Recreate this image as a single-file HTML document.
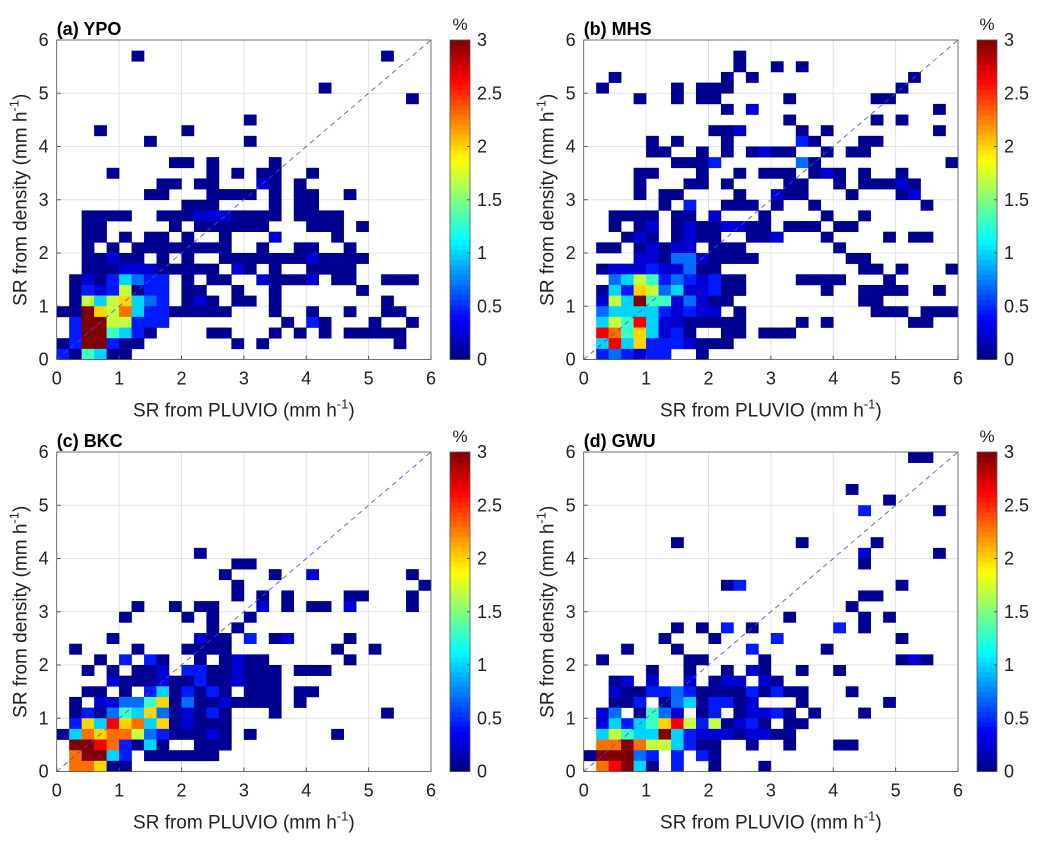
<!DOCTYPE html>
<html><head><meta charset="utf-8"><style>
body{margin:0;background:#fff;}
svg{display:block;font-family:"Liberation Sans",Arial,sans-serif;}
</style></head><body>
<svg id="fig" width="1042" height="844" viewBox="0 0 1042 844"></svg>
<script>
const NS="http://www.w3.org/2000/svg";
const panelTitles=["(a) YPO","(b) MHS","(c) BKC","(d) GWU"];
const xTicks=[0,1,2,3,4,5,6];
const yTicks=[0,1,2,3,4,5,6];
const cbTicks=[0,0.5,1,1.5,2,2.5,3];
const cbTickLabels=["0","0.5","1","1.5","2","2.5","3"];
const levelChars="123456789ab";
const levelValues=[0.05,0.25,0.45,0.7,1.0,1.3,1.7,2.0,2.3,2.65,3.0];
const binSize=0.2;
const rowsA=["","6 26","","","21","28","","15","3 10","7 15","",
"9-10 12 17","4 12 14 16-17 20","8-9 11-12 16=2 17 19","7-8 12-15 17 19-20 23","10-12 17 19-20",
"2-5 8-10 11=2 12=2 13=2 14-17 19-22","2-3 9 11-16 20-22 24","2-3 5 7-8 10 13 17=2 22","2 4 6-13 16 19-20 23",
"2-3 4=2 5-6 8 10 13-19 20=2 21-24","2-4 5=2 6=2 7=2 8-12 14=2 15 17 20-23",
"1 2=2 3 4=3 5=5 6=4 7=3 8=3 10 12-13 16=2 17-19 20=2 22-23 26-28",
"1 2=3 3=2 4=3 5=7 6 7=3 8=3 10-11 14 17 24",
"1 2=7 3=5 4=7 5=8 6=5 7=4 8=3 10 11=2 12 14-15 17 26",
"0-1 2=b 3=8 4=7 5=9 6=5 7=3 8=3 9-13 17 20 23 26-27",
"1=3 2=b 3=b 4=7 5=7 6=3 7=3 8=3 18 20=3 21 25 28",
"1=3 2=b 3=b 4=6 5=5 6=3 7 12-13 17 19 21 23-27",
"0 1=3 2=b 3=b 4=3 5-6 14 16 27","0=3 1 2=6 3=5 4-5"];
const rowsB=["","12","12 15 17","2 11 13 26","1 7 9-11 25","4 7 9-10 16 23-24","11 13=2 28","16 23 25",
"10-11 12=2 17 19 28","5 7 11 17=3 18 22-23","5-6 9 11 13 14=2 15-16 19 21-22","7-9 10=3 17=4 18 29",
"4-5 9 12 14-16 18 19=2 20 22 25","4 8-9 11 16-17 20 22-24 25=2 26","4 6-7 12 15=2 16-17 21 25 26=2",
"6 8=3 11-13 15 18 27","2-5 7-8 10=2 14 19 22","2 4 5=2 7 8=2 9-10 11=2 12=2 13-14 16-18 20-21",
"3 4=2 5 7 8=2 9-10 13-14 15=2 19 24 26-27","1-2 4 5=2 6 7=2 8=2 10-12 20",
"4=2 5=2 6 7=4 8=4 9=2 10-13 21-22","1 2=2 3=2 4=2 5=3 6=2 7=2 8=4 9-10 22-23 25 29",
"2=4 3=5 4=7 5=6 6=3 7=4 8=3 9=2 10=3 11-12 17-20 24",
"1 2=5 3=3 4=8 5=7 6=4 7=5 8=2 9=2 10=3 11-12 19 22-25 28",
"1=2 2=7 3=5 4=b 5=6 6=6 7=2 8=4 9=2 10-11 22-23",
"1=4 2=5 3=5 4=5 5=5 6=3 7=2 8=3 9=2 10=2 12 23-25 27-29",
"1=5 2=7 3=6 4=a 5=5 6=2 7=2 8-12 17 19 26-27",
"1=a 2=9 3=6 4=8 5=5 6=2 7=3 8 11-12 14-16",
"1=5 2=a 3=5 4=8 5=3 6=3 7=3 8=2 9-11","1=3 2=4 3=3 4=2 5=3 6=3 9"];
const rowsC=["","","","","","","","","","11","14-15","13 17 20=2 28","14 29","14 16 18 23-24 28",
"6 9 11-12 16=2 18 20-21 23=2 28","5 10 12 15","12 14","4 11=2 12-13 15=3 17 18=2 23",
"1 6 10-13 22 25","3 5=3 7=3 8 11 13 14=2 15-16 23",
"2 4 6-7 8=2 10=3 11=3 12-13 14=2 15-17 19-21",
"4=2 5-7 8=2 9-10 11=3 12-13 14=2 15-17",
"2-3 5 7=3 8=5 9 10=3 11 12=3 13 15-17 19-20",
"1 3=2 4=2 5=4 6=4 7=6 8=8 9 10=4 11-12 13=2 14-17 19",
"1 2=3 3 4=4 5=6 6=5 7=8 8=4 9 10=2 11 12=3 13 17 26",
"1=3 2=8 3=5 4=a 5=8 6=9 7=5 8=8 9 10=2 11-13",
"0 1=5 2=9 3=8 4=9 5=9 6=7 7=4 8=3 9-11 12=2 13 15 22",
"1=b 2=b 3=a 4=9 5=3 6 7=5 8 11-13","1=9 2=b 3=b 4=5 5=3 7-12","1=9 2=9 3=8 4-5"];
const rowsD=["26-27","","","21","24","22=3 28","","","7 17 23","22=2 28","22","","11 12=3 25","22-23","21",
"16 22 24","7 9 11=3 13 20=3 22","6 10 15=3 25","3 7 13=3 19","1 8-9 14 25 26=2 27",
"5 8 11 13=2 14 17 20","2 3=2 5=2 8=2 10 11=2 12=2 14=2 15",
"2=2 3-4 5=3 6=3 7=4 8=3 9-12 13=3 14 15=3 16-17 21",
"2-3 4=3 6 7=4 8=5 9 10=3 11=3 12 13=2 17 24",
"1=2 2=4 4 5=6 6=4 7=2 9 10=3 12 13=2 14=2 15=3 16 18 22",
"1=2 2=5 3=3 4=5 5=6 6=8 7=a 8=7 9=3 10=7 11 12=2 13=3 14 16-17",
"1=5 2=7 3=6 4=5 5=5 6=b 7=5 8=3 9=2 10=2 11=2 12 13=2 14=2 15-16",
"1=9 2=9 3=b 4=9 5=7 6=7 7=5 8=3 9-10 13 16 20-21",
"0 1=b 2=b 3=b 4=4 5=3 7=3 9=3 10","1=9 2=a 3=b 4=5 5 7=3 10 14"];
const panelRows=[rowsA,rowsB,rowsC,rowsD];

const panels=[{l:56.7,r:431,t:40,b:359.5},{l:583.7,r:958,t:40,b:359.5},{l:56.7,r:431,t:452,b:771.5},{l:583.7,r:958,t:452,b:771.5}];
const svg=document.getElementById('fig');
function el(tag,attrs,parent){const e=document.createElementNS(NS,tag);for(const k in attrs)e.setAttribute(k,attrs[k]);(parent||svg).appendChild(e);return e;}
function jet(v){const t=Math.max(0,Math.min(1,v/3));const c=x=>Math.round(255*Math.max(0,Math.min(1,1.5-Math.abs(4*t-x))));return `rgb(${c(3)},${c(2)},${c(1)})`;}
function parseRow(s){const out=[];if(!s)return out;s.split(' ').forEach(tok=>{let v=0.05;let p=tok;if(tok.includes('=')){const [a,b]=tok.split('=');p=a;v=levelValues[levelChars.indexOf(b)];}
 if(p.includes('-')){const [a,b]=p.split('-').map(Number);for(let c=a;c<=b;c++)out.push([c,v]);}else out.push([Number(p),v]);});return out;}

panels.forEach((P,pi)=>{
 const g=el('g',{});
 
 
 const sx=x=>P.l+(P.r-P.l)*x/6, sy=y=>P.b-(P.b-P.t)*y/6;
 xTicks.forEach(v=>{const l=el('line',{x1:sx(v),x2:sx(v),y1:P.t,y2:P.b,stroke:'#e3e3e3','stroke-width':1},g);});
 yTicks.forEach(v=>{const l=el('line',{x1:P.l,x2:P.r,y1:sy(v),y2:sy(v),stroke:'#e3e3e3','stroke-width':1},g);});
 panelRows[pi].forEach((row,ri)=>{const y0=6-binSize*(ri+1);parseRow(row).forEach(([c,v])=>{const x0=c*binSize;
  const r=el('rect',{x:sx(x0),y:sy(y0+binSize),width:sx(x0+binSize)-sx(x0)+0.3,height:sy(y0)-sy(y0+binSize)+0.3,fill:jet(v)},g);
  
  });});
 const d=el('line',{x1:sx(0),y1:sy(0),x2:sx(6),y2:sy(6),stroke:'#4a4ad8','stroke-width':0.8,'stroke-dasharray':'5,4'},g);
 
 const box=el('rect',{x:P.l,y:P.t,width:P.r-P.l,height:P.b-P.t,fill:'none',stroke:'#555','stroke-width':0.8},g);
 
 xTicks.forEach(v=>{el('line',{x1:sx(v),x2:sx(v),y1:P.b,y2:P.b-4,stroke:'#555'},g);const t=el('text',{x:sx(v),y:P.b+25,'text-anchor':'middle','font-size':18,fill:'#222'},g);t.textContent=v;});
 yTicks.forEach(v=>{el('line',{x1:P.l,x2:P.l+4,y1:sy(v),y2:sy(v),stroke:'#555'},g);const t=el('text',{x:P.l-8,y:sy(v)+6,'text-anchor':'end','font-size':18,fill:'#222'},g);t.textContent=v;});
 const ti=el('text',{x:P.l,y:P.t-5,'font-size':18,'font-weight':'bold',fill:'#000'},g);ti.textContent=panelTitles[pi];
 const xl=el('text',{x:(P.l+P.r)/2,y:P.b+57,'text-anchor':'middle','font-size':19,fill:'#222'},g);
 xl.innerHTML='SR from PLUVIO (mm h<tspan dy="-8" font-size="13">-1</tspan><tspan dy="8">)</tspan>';
 
 const cy=(P.t+P.b)/2, cx=P.l-30;
 const yl=el('text',{x:cx,y:cy,'text-anchor':'middle','font-size':19,fill:'#222',transform:`rotate(-90 ${cx} ${cy})`},g);
 yl.innerHTML='SR from density (mm h<tspan dy="-8" font-size="13">-1</tspan><tspan dy="8">)</tspan>';
 
 const cbx=P.r+19, cbw=20;
 const cb=el('g',{},g);
 const N=64;for(let i=0;i<N;i++){const y1=P.b-(P.b-P.t)*(i+1)/N;el('rect',{x:cbx,y:y1,width:cbw,height:(P.b-P.t)/N+0.5,fill:jet(3*(i+0.5)/N)},cb);}
 el('rect',{x:cbx,y:P.t,width:cbw,height:P.b-P.t,fill:'none',stroke:'#555','stroke-width':0.8},cb);
 cbTicks.forEach((v,i)=>{const y=P.b-(P.b-P.t)*v/3;el('line',{x1:cbx+cbw-3,x2:cbx+cbw,y1:y,y2:y,stroke:'#555'},cb);const t=el('text',{x:cbx+cbw+7,y:y+6,'font-size':18,fill:'#222'},cb);t.textContent=cbTickLabels[i];});
 const pc=el('text',{x:cbx+cbw/2,y:P.t-10,'text-anchor':'middle','font-size':17,fill:'#222'},cb);pc.textContent='%';
});
</script>
</body></html>
